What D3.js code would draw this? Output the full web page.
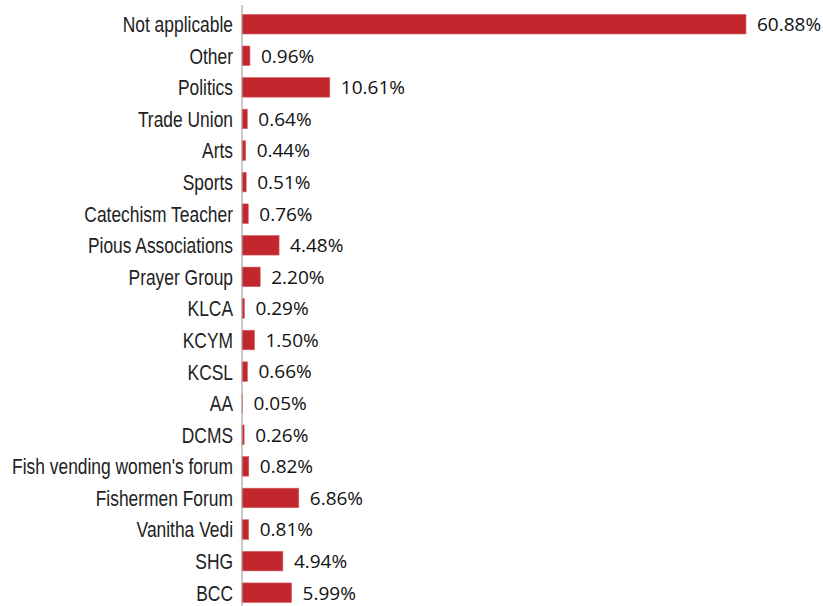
<!DOCTYPE html>
<html>
<head>
<meta charset="utf-8">
<script src="https://cdn.jsdelivr.net/npm/d3@7"></script>
<style>
  html, body { margin: 0; padding: 0; background: #fff; }
  svg { display: block; }
</style>
</head>
<body>
<svg id="chart" width="823" height="606"></svg>
<script>
// Membership categories, top to bottom
const categories = [
  "Not applicable", "Other", "Politics", "Trade Union", "Arts", "Sports",
  "Catechism Teacher", "Pious Associations", "Prayer Group", "KLCA", "KCYM",
  "KCSL", "AA", "DCMS", "Fish vending women's forum", "Fishermen Forum",
  "Vanitha Vedi", "SHG", "BCC"
];
// Share of respondents (%)
const values = [
  60.88, 0.96, 10.61, 0.64, 0.44, 0.51, 0.76, 4.48, 2.20, 0.29, 1.50,
  0.66, 0.05, 0.26, 0.82, 6.86, 0.81, 4.94, 5.99
];

const data = categories.map((c, i) => ({ category: c, value: values[i] }));

const svg = d3.select("#chart");
const x0 = 242;
const labelRight = 233;   // right edge of category labels
const labelWidest = 221;  // width allotted to the longest category label

const x = d3.scaleLinear().domain([0, 60.88]).range([x0, 746]);
const y = d3.scaleBand().domain(categories).range([8.4, 608.5]).paddingInner(0.38).paddingOuter(0.19);

// Bars
svg.append("g").selectAll("rect").data(data).join("rect")
  .attr("x", x(0))
  .attr("y", d => y(d.category))
  .attr("width", d => x(d.value) - x(0))
  .attr("height", y.bandwidth())
  .attr("fill", "#c1272d")
  .attr("stroke", "#d9626a")
  .attr("stroke-width", 0.6);

// Category labels in a condensed style: plain sans, squeezed horizontally
const labels = svg.append("g").selectAll("text").data(data).join("text")
  .attr("text-anchor", "end")
  .attr("dy", "0.35em")
  .attr("fill", "#222")
  .style("font-family", "'Liberation Sans', Arial, sans-serif")
  .style("font-size", "22.5px")
  .text(d => d.category);

let maxW = 0;
labels.each(function () { maxW = Math.max(maxW, this.getComputedTextLength()); });
const squeeze = labelWidest / maxW;
labels.attr("transform", d =>
  `translate(${labelRight},${y(d.category) + y.bandwidth() / 2}) scale(${squeeze},1)`);

// Vertical axis line
svg.append("line")
  .attr("x1", x0).attr("x2", x0)
  .attr("y1", 5).attr("y2", 606)
  .attr("stroke", "#a6a6a6").attr("stroke-width", 1.2);

// Value labels
svg.append("g").selectAll("text").data(data).join("text")
  .attr("x", d => x(d.value) + 11)
  .attr("y", d => y(d.category) + y.bandwidth() / 2)
  .attr("dy", "0.36em")
  .attr("fill", "#111")
  .style("font-family", "'Open Sans', Lato, sans-serif")
  .style("font-size", "19px")
  .text(d => d.value.toFixed(2) + "%");
</script>
</body>
</html>
